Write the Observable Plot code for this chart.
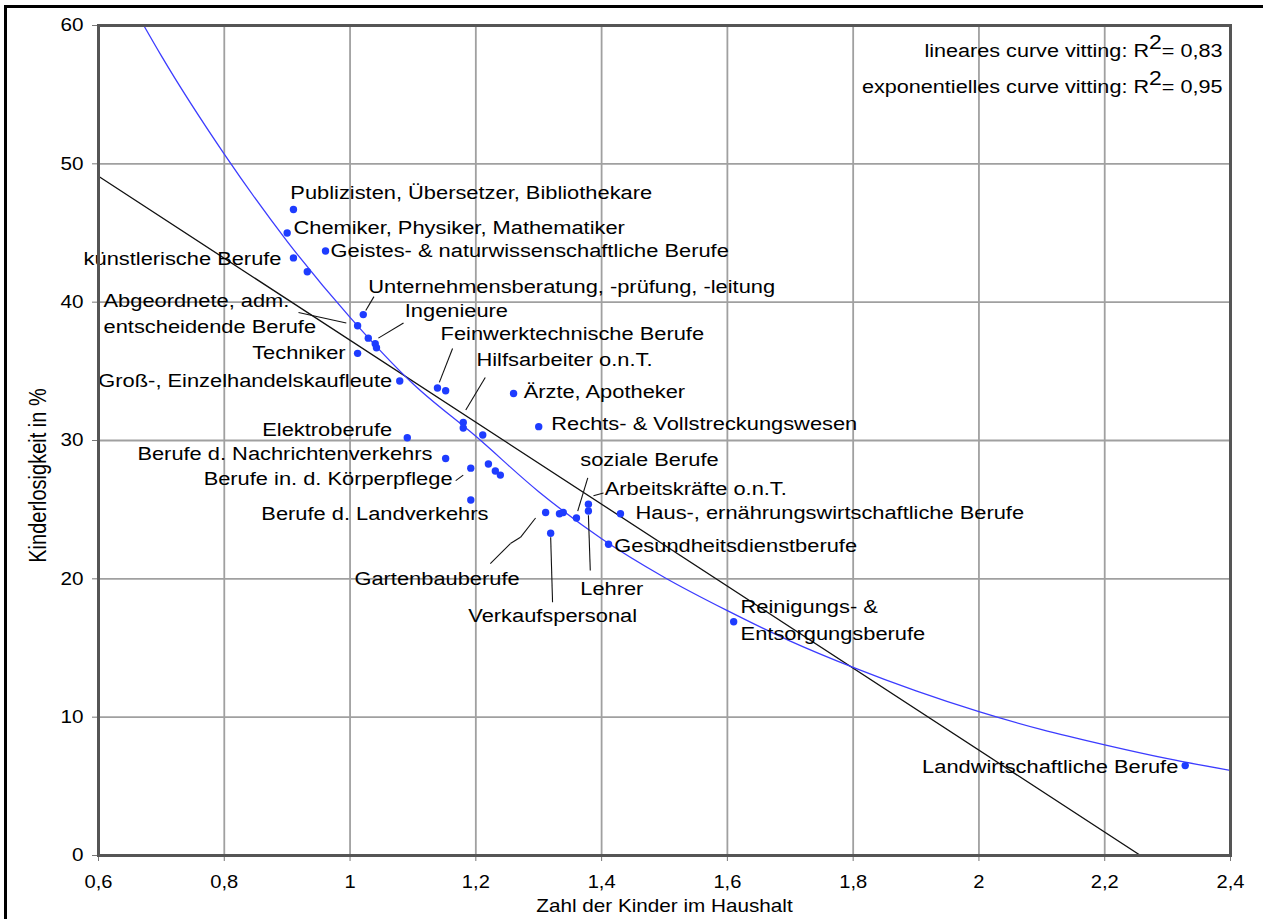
<!DOCTYPE html>
<html><head><meta charset="utf-8">
<script src="https://cdn.jsdelivr.net/npm/d3@7"></script>
<script src="https://cdn.jsdelivr.net/npm/@observablehq/plot@0.6"></script>
<style>
body{margin:0;background:#fff;}
#wrap{position:relative;width:1263px;height:919px;overflow:hidden;background:#fff;}
#chart{position:absolute;left:0;top:0;}
#bl{position:absolute;left:4px;top:5px;width:3px;height:914px;background:#000;}
#bt{position:absolute;left:4px;top:5px;width:1259px;height:3px;background:#000;}
</style></head><body>
<div id="wrap"><div id="chart"></div><div id="bl"></div><div id="bt"></div></div>
<script>
// ---- data ----
const xTicks = [0.6, 0.8, 1.0, 1.2, 1.4, 1.6, 1.8, 2.0, 2.2, 2.4];
const yTicks = [0, 10, 20, 30, 40, 50, 60];

const pointX = [0.910, 0.900, 0.961, 0.910, 0.932, 1.021, 1.012, 1.029, 1.040, 1.042, 1.012, 1.079, 1.139, 1.152, 1.180, 1.180, 1.211, 1.260, 1.300, 1.091, 1.152, 1.192, 1.220, 1.231, 1.239, 1.192, 1.311, 1.333, 1.339, 1.360, 1.379, 1.379, 1.319, 1.430, 1.411, 1.610, 2.328];
const pointY = [46.7, 45.0, 43.7, 43.2, 42.2, 39.1, 38.3, 37.4, 37.0, 36.7, 36.3, 34.3, 33.8, 33.6, 31.3, 30.9, 30.4, 33.4, 31.0, 30.2, 28.7, 28.0, 28.3, 27.8, 27.5, 25.7, 24.8, 24.7, 24.8, 24.4, 25.4, 24.9, 23.3, 24.7, 22.5, 16.9, 6.5];

const labelsRightText = ["Publizisten, Übersetzer, Bibliothekare", "Chemiker, Physiker, Mathematiker", "Geistes- & naturwissenschaftliche Berufe", "Unternehmensberatung, -prüfung, -leitung", "Abgeordnete, adm.", "entscheidende Berufe", "Ingenieure", "Feinwerktechnische Berufe", "Hilfsarbeiter o.n.T.", "Ärzte, Apotheker", "Rechts- & Vollstreckungswesen", "soziale Berufe", "Arbeitskräfte o.n.T.", "Haus-, ernährungswirtschaftliche Berufe", "Gesundheitsdienstberufe", "Gartenbauberufe", "Lehrer", "Verkaufspersonal", "Reinigungs- &", "Entsorgungsberufe"];
const labelsRightX = [0.905, 0.910, 0.969, 1.029, 0.608, 0.608, 1.087, 1.144, 1.201, 1.276, 1.320, 1.366, 1.405, 1.454, 1.420, 1.007, 1.366, 1.188, 1.621, 1.621];
const labelsRightY = [47.9, 45.4, 43.7, 41.1, 40.1, 38.2, 39.4, 37.7, 35.8, 33.5, 31.2, 28.6, 26.5, 24.8, 22.4, 20.0, 19.3, 17.3, 18.0, 16.0];

const labelsLeftText = ["künstlerische Berufe", "Techniker", "Groß-, Einzelhandelskaufleute", "Elektroberufe", "Berufe d. Nachrichtenverkehrs", "Berufe in. d. Körperpflege", "Berufe d. Landverkehrs", "Landwirtschaftliche Berufe"];
const labelsLeftX = [0.891, 0.993, 1.067, 1.067, 1.131, 1.163, 1.220, 2.317];
const labelsLeftY = [43.1, 36.3, 34.3, 30.8, 29.0, 27.2, 24.7, 6.4];

const leaderX1 = [1.038, 0.918, 1.085, 1.163, 1.215, 1.168, 1.378, 1.403, 1.223, 1.255, 1.271, 1.382, 1.322];
const leaderY1 = [40.4, 39.25, 38.5, 36.65, 34.55, 27.1, 27.3, 26.2, 21.1, 22.55, 23.0, 20.6, 18.3];
const leaderX2 = [1.025, 0.994, 1.045, 1.142, 1.184, 1.180, 1.362, 1.387, 1.255, 1.271, 1.295, 1.379, 1.319];
const leaderY2 = [39.4, 38.5, 37.4, 34.2, 32.2, 27.5, 24.9, 26.0, 22.55, 23.0, 24.4, 24.6, 23.0];

const linearFitX = [0.6, 2.257];
const linearFitY = [49.1, 0];
const expFitX = [0.672, 0.7, 0.8, 0.9, 1.0, 1.1, 1.2, 1.3, 1.4, 1.5, 1.6, 1.7, 1.8, 1.9, 2.0, 2.1, 2.2, 2.3, 2.4];
const expFitY = [60, 57.8, 50.7, 44.4, 38.9, 34.1, 30.3, 26.3, 22.9, 20.1, 17.7, 15.5, 13.6, 11.9, 10.4, 9.1, 8.0, 7.0, 6.15];

const fitNotes = ["lineares curve vitting: R²= 0,83", "exponentielles curve vitting: R²= 0,95"];
const xTitle = "Zahl der Kinder im Haushalt";
const yTitle = "Kinderlosigkeit in %";

// ---- tables ----
const points = pointX.map((x, i) => ({x, y: pointY[i]}));
const labelsRight = labelsRightText.map((t, i) => ({t, x: labelsRightX[i], y: labelsRightY[i]}));
const labelsLeft = labelsLeftText.map((t, i) => ({t, x: labelsLeftX[i], y: labelsLeftY[i]}));
const leaders = leaderX1.map((x1, i) => ({x1, y1: leaderY1[i], x2: leaderX2[i], y2: leaderY2[i]}));
const linFit = linearFitX.map((x, i) => ({x, y: linearFitY[i]}));
const expFit = expFitX.map((x, i) => ({x, y: expFitY[i]}));

const fmt = d => String(d).replace(".", ",");

const chart = Plot.plot({
  width: 1263, height: 919,
  marginLeft: 98, marginRight: 33, marginTop: 25, marginBottom: 64,
  style: {fontFamily: "'Liberation Sans', Arial, sans-serif", background: "transparent", color: "#000"},
  x: {domain: [0.6, 2.4]},
  y: {domain: [0, 60]},
  marks: [
    Plot.gridX(xTicks, {stroke: "#a0a0a0", strokeOpacity: 1, strokeWidth: 1.8}),
    Plot.gridY(yTicks, {stroke: "#a0a0a0", strokeOpacity: 1, strokeWidth: 1.8}),
    Plot.line(linFit, {x: "x", y: "y", stroke: "#111", strokeWidth: 1.3, clip: true}),
    Plot.line(expFit, {x: "x", y: "y", stroke: "#3c3cff", strokeWidth: 1.3, curve: "monotone-x", clip: true}),
    Plot.link(leaders, {x1: "x1", y1: "y1", x2: "x2", y2: "y2", stroke: "#111", strokeWidth: 1.1}),
    Plot.dot(points, {x: "x", y: "y", r: 3.7, fill: "#1e3cff"}),
    Plot.text(labelsRight, {x: "x", y: "y", text: "t", textAnchor: "start", fontSize: 19, fill: "#000"}),
    Plot.text(labelsLeft, {x: "x", y: "y", text: "t", textAnchor: "end", fontSize: 19, fill: "#000"}),
    Plot.axisX(xTicks, {tickFormat: fmt, tickSize: 6, tickPadding: 14, fontSize: 17.5, label: null, stroke: "#777"}),
    Plot.axisY(yTicks, {tickSize: 6, tickPadding: 9, fontSize: 18, label: null, stroke: "#777"}),
    Plot.frame({stroke: "#555", strokeWidth: 3}),
    Plot.text([fitNotes[0]], {text: d => d, frameAnchor: "top-right", dx: -8, dy: 25, textAnchor: "end", lineAnchor: "middle", fontSize: 18.8}),
    Plot.text([fitNotes[1]], {text: d => d, frameAnchor: "top-right", dx: -8, dy: 61, textAnchor: "end", lineAnchor: "middle", fontSize: 18.8}),
    Plot.text([xTitle], {text: d => d, frameAnchor: "bottom", dy: 51, textAnchor: "middle", lineAnchor: "middle", fontSize: 18}),
    Plot.text([yTitle], {text: d => d, frameAnchor: "left", dx: -60, dy: 35, rotate: -90, textAnchor: "middle", lineAnchor: "middle", fontSize: 20})
  ]
});

// superscript 2 in R² notes
const NS = "http://www.w3.org/2000/svg";
chart.querySelectorAll("text").forEach(t => {
  const s = t.textContent;
  const i = s.indexOf("²");
  if (i < 0 || t.children.length) return;
  t.textContent = "";
  t.appendChild(document.createTextNode(s.slice(0, i)));
  const sup = document.createElementNS(NS, "tspan");
  sup.setAttribute("dy", "-8"); sup.setAttribute("font-size", "20"); sup.textContent = "2";
  const rest = document.createElementNS(NS, "tspan");
  rest.setAttribute("dy", "8"); rest.textContent = s.slice(i + 1);
  t.appendChild(sup); t.appendChild(rest);
});

// the reference is rendered slightly wide: stretch text horizontally around its anchor
const SX = 1.15;
chart.querySelectorAll("text").forEach(t => {
  let tr = t.getAttribute("transform");
  if (!tr) {
    const x = t.getAttribute("x") || 0, y = t.getAttribute("y") || 0;
    t.removeAttribute("x"); t.removeAttribute("y");
    tr = `translate(${x},${y})`;
  }
  t.setAttribute("transform", tr + (tr.includes("rotate") ? ` scale(1,${SX})` : ` scale(${SX},1)`));
});

document.getElementById("chart").appendChild(chart);
</script>
</body></html>
